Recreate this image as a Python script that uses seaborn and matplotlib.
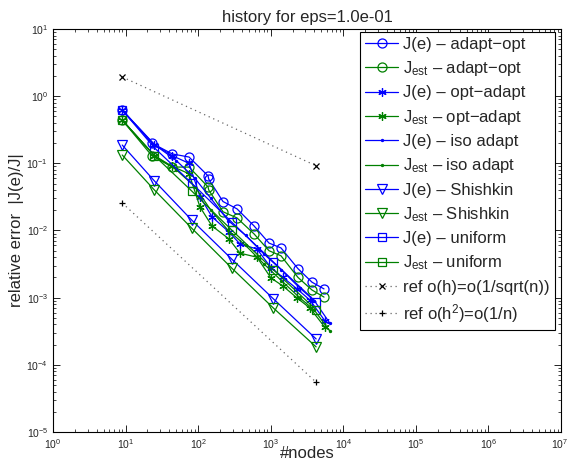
import numpy as np
import pandas as pd
import matplotlib
matplotlib.use("Agg")
import matplotlib.pyplot as plt
import matplotlib.transforms as mtransforms
import seaborn as sns
from matplotlib.ticker import LogLocator, NullFormatter, FixedLocator

# ---------------- data ----------------
n_adaptopt = [9, 23, 44, 75, 137, 140, 220, 343, 589, 947, 1386, 2377, 3706, 5425]
je_adaptopt = [0.62, 0.20, 0.138, 0.124, 0.065, 0.058, 0.027, 0.021, 0.0117, 0.0065, 0.0055, 0.0027, 0.0017, 0.00135]
jest_adaptopt = [0.44, 0.13, 0.088, 0.088, 0.0445, 0.040, 0.019, 0.0154, 0.0089, 0.0050, 0.0042, 0.0020, 0.0013, 0.00102]

n_optadapt = [9, 25, 44, 75, 106, 155, 266, 377, 647, 1009, 1477, 2303, 3479, 5600]
je_optadapt = [0.62, 0.19, 0.13, 0.10, 0.032, 0.016, 0.0095, 0.0063, 0.0053, 0.0028, 0.0020, 0.00135, 0.00092, 0.00045]
jest_optadapt = [0.44, 0.13, 0.09, 0.07, 0.0224, 0.0117, 0.0075, 0.0046, 0.0040, 0.00196, 0.00149, 0.00099, 0.00070, 0.00036]

n_iso = [9, 25, 50, 90, 150, 260, 450, 800, 1400, 2500, 4000, 6500]
je_iso = [0.62, 0.19, 0.11, 0.06, 0.030, 0.014, 0.0085, 0.0045, 0.0026, 0.0014, 0.0009, 0.00042]
jest_iso = [0.44, 0.13, 0.08, 0.045, 0.020, 0.010, 0.006, 0.0032, 0.0018, 0.0010, 0.00065, 0.00032]

n_shishkin = [9, 25, 81, 289, 1089, 4225]
je_shishkin = [0.187, 0.0546, 0.0144, 0.00377, 0.00096, 0.000243]
jest_shishkin = [0.133, 0.040, 0.0109, 0.00277, 0.00070, 0.000185]

n_uniform = [9, 25, 81, 289, 1089, 4225]
je_uniform = [0.62, 0.17, 0.051, 0.0134, 0.0034, 0.00086]
jest_uniform = [0.44, 0.13, 0.039, 0.0102, 0.0026, 0.00066]

n_ref = [9, 4225]
ref_h = [1.93, 0.092]
ref_h2 = [0.0257, 5.5e-5]

x_ticks = [1e0, 1e1, 1e2, 1e3, 1e4, 1e5, 1e6, 1e7]
y_ticks = [1e-5, 1e-4, 1e-3, 1e-2, 1e-1, 1e0, 1e1]

labels = [
    "J(e) – adapt−opt", r"J$_{\rm est}$ – adapt−opt",
    "J(e) – opt−adapt", r"J$_{\rm est}$ – opt−adapt",
    "J(e) – iso adapt", r"J$_{\rm est}$ – iso adapt",
    "J(e) – Shishkin", r"J$_{\rm est}$ – Shishkin",
    "J(e) – uniform", r"J$_{\rm est}$ – uniform",
    "ref o(h)=o(1/sqrt(n))", r"ref o(h$^2$)=o(1/n)",
]

# ---------------- plotting ----------------
sns.set_style("white")
plt.rcParams["font.family"] = ["Liberation Sans", "DejaVu Sans"]
plt.rcParams["mathtext.fontset"] = "custom"
plt.rcParams["mathtext.rm"] = "Liberation Sans"
plt.rcParams["mathtext.it"] = "Liberation Sans:italic"

fig = plt.figure(figsize=(5.68, 4.65), dpi=100)
ax = fig.add_axes([53/568, 1-432/465, 508/568, 403/465])
ax.set_xscale("log")
ax.set_yscale("log")

BLUE = (0, 0, 1)
GREEN = (0, 0.5, 0)
AST = (6, 2, 0)

series = [
    (n_adaptopt, je_adaptopt, BLUE, "o", 6.5), (n_adaptopt, jest_adaptopt, GREEN, "o", 6.5),
    (n_optadapt, je_optadapt, BLUE, AST, 6), (n_optadapt, jest_optadapt, GREEN, AST, 6),
    (n_iso, je_iso, BLUE, ".", 3), (n_iso, jest_iso, GREEN, ".", 3),
    (n_shishkin, je_shishkin, BLUE, "v", 6.5), (n_shishkin, jest_shishkin, GREEN, "v", 6.5),
    (n_uniform, je_uniform, BLUE, "s", 6), (n_uniform, jest_uniform, GREEN, "s", 6),
]

for (xs, ys, col, mk, ms), lab in zip(series, labels[:10]):
    df = pd.DataFrame({"n": xs, "err": ys})
    filled = mk in (AST, ".")
    sns.lineplot(data=df, x="n", y="err", ax=ax, color=col, marker=mk,
                 markersize=ms, markerfacecolor=(col if filled else "none"),
                 markeredgecolor=col, markeredgewidth=0.9, linewidth=0.9,
                 estimator=None, sort=False, label=lab)

for ys, mk, lab in [(ref_h, "x", labels[10]), (ref_h2, "+", labels[11])]:
    df = pd.DataFrame({"n": n_ref, "err": ys})
    sns.lineplot(data=df, x="n", y="err", ax=ax, color="0.4", linestyle=(0, (1, 3)),
                 marker=mk, markersize=5, markeredgecolor="k", markeredgewidth=0.9,
                 linewidth=0.9, estimator=None, sort=False, label=lab)

ax.set_xlim(1, 1e7)
ax.set_ylim(1e-5, 10)

ax.xaxis.set_major_locator(FixedLocator(x_ticks))
ax.yaxis.set_major_locator(FixedLocator(y_ticks))
ax.xaxis.set_minor_locator(LogLocator(base=10, subs=np.arange(2, 10), numticks=100))
ax.yaxis.set_minor_locator(LogLocator(base=10, subs=np.arange(2, 10), numticks=100))
ax.xaxis.set_minor_formatter(NullFormatter())
ax.yaxis.set_minor_formatter(NullFormatter())
ax.tick_params(which="both", direction="in", top=True, right=True, bottom=True, left=True,
               color="k", labelsize=7.5)
ax.tick_params(which="major", length=5, width=0.6)
ax.tick_params(which="minor", length=2.5, width=0.5)
for s in ax.spines.values():
    s.set_color("k")
    s.set_linewidth(0.8)

ax.set_xlabel("#nodes", fontsize=12, labelpad=-3)
ax.set_ylabel("relative error  |J(e)/J|", fontsize=12, labelpad=2)
ax.set_title("history for eps=1.0e-01", fontsize=12, pad=5)

leg = ax.legend(loc="upper right", bbox_to_anchor=(0.988, 0.993), fontsize=12,
                frameon=True, fancybox=False, edgecolor="k", framealpha=1,
                handlelength=2.0, handletextpad=0.3, labelspacing=0.44,
                borderpad=0.3, borderaxespad=0)
leg.get_frame().set_linewidth(0.8)

# keep the last x tick label inside the canvas
fig.canvas.draw()
last = ax.xaxis.get_major_ticks()[-1].label1
last.set_horizontalalignment("right")
last.set_transform(last.get_transform() +
                   mtransforms.ScaledTranslation(7 / 100, 0, fig.dpi_scale_trans))

fig.savefig("out.png", dpi=100)
